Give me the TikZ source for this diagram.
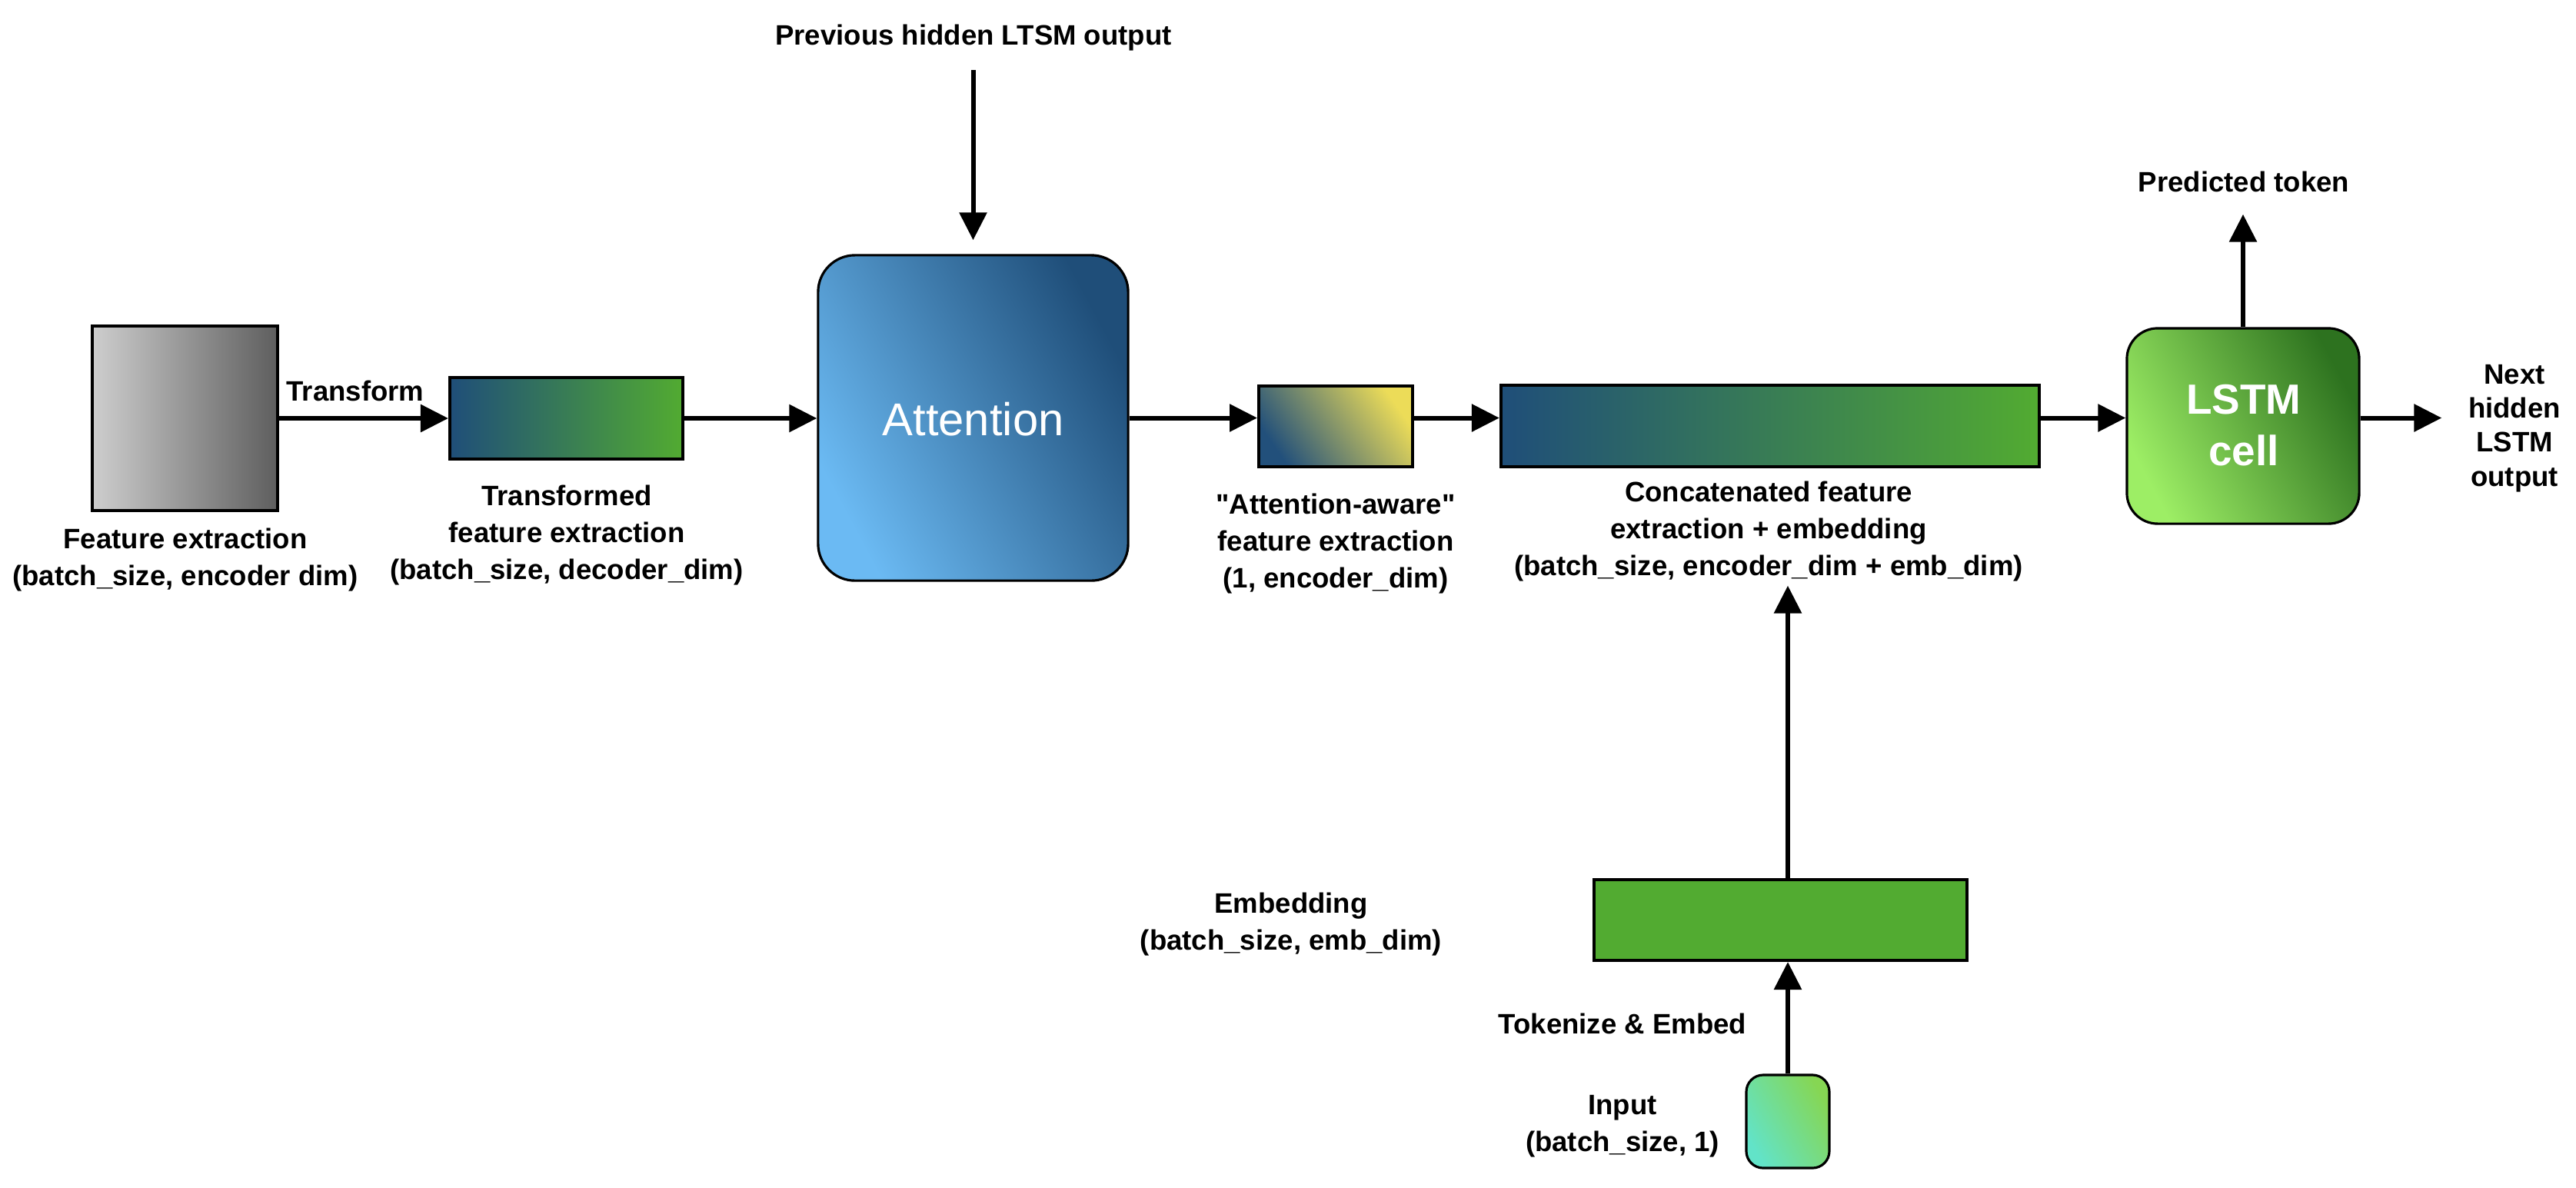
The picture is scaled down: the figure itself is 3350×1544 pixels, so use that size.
\documentclass[tikz,border=0pt]{standalone}
\usepackage{fontspec}
\setmainfont{Liberation Sans}
\usetikzlibrary{arrows.meta}
\definecolor{dblue}{HTML}{1F4E79}
\definecolor{lblue}{HTML}{6BBAF3}
\definecolor{mgreen}{HTML}{52AB31}
\definecolor{lgray}{HTML}{CECECE}
\definecolor{dgray}{HTML}{5E5E5E}
\definecolor{aablue}{HTML}{22507B}
\definecolor{aayel}{HTML}{ECDC58}
\definecolor{lgreen}{HTML}{9DEE65}
\definecolor{dgreen}{HTML}{2D721F}
\definecolor{inteal}{HTML}{62E3C8}
\definecolor{ingreen}{HTML}{86D653}
\newcommand\straightq{\XeTeXglyph\XeTeXcharglyph"22\relax}
\begin{document}
\begin{tikzpicture}[x=0.01cm,y=-0.01cm,
  lbl/.style={font=\bfseries\fontsize{10.4}{13.6}\selectfont, align=center, inner sep=0pt},
  box/.style={draw=black, line width=1.1pt, inner sep=0pt},
  rbox/.style={draw=black, line width=0.9pt, inner sep=0pt},
  arr/.style={line width=1.7pt, -{Triangle[length=0.36cm,width=0.35cm]}},
  wtxt/.style={text=white, align=center}]

\useasboundingbox (0,0) rectangle (3350,1544);

% boxes
\node[box, minimum width=2.41cm, minimum height=2.40cm, left color=lgray, right color=dgray] (feat) at (240.5,544) {};
\node[box, minimum width=3.03cm, minimum height=1.06cm, left color=dblue, right color=mgreen] (trans) at (736.5,544) {};
\node[rbox, rounded corners=0.48cm, minimum width=4.03cm, minimum height=4.23cm,
      top color=dblue, bottom color=lblue, shading angle=-62] (attn) at (1265.5,543.5) {};
\node[wtxt, font=\fontsize{17}{20}\selectfont] (attntxt) at (1265.5,545) {Attention};
\node[box, minimum width=2.00cm, minimum height=1.05cm,
      top color=aayel, bottom color=aablue, shading angle=-55] (aa) at (1737,554.5) {};
\node[box, minimum width=7.00cm, minimum height=1.06cm, left color=dblue, right color=mgreen] (concat) at (2302,554) {};
\node[rbox, rounded corners=0.4cm, minimum width=3.02cm, minimum height=2.54cm,
      top color=dgreen, bottom color=lgreen, shading angle=-62] (lstm) at (2917,554) {};
\node[wtxt, font=\bfseries\fontsize{15.6}{19}\selectfont] (lstmtxt) at (2918,553) {LSTM\\cell};
\node[box, minimum width=4.85cm, minimum height=1.05cm, fill=mgreen] (emb) at (2315.5,1196.5) {};
\node[rbox, rounded corners=0.22cm, minimum width=1.08cm, minimum height=1.21cm,
      top color=ingreen, bottom color=inteal, shading angle=-60] (inp) at (2325,1458.5) {};

% labels
\node[lbl] (prev) at (1266,49.5) {Previous hidden LTSM output};
\node[lbl] (featlbl) at (241,728) {Feature extraction\\(batch\_size, encoder dim)};
\node[lbl] (translbl) at (737,696) {Transformed\\feature extraction\\(batch\_size, decoder\_dim)};
\node[lbl] (transform) at (462,508) {Transform};
\node[lbl] (aalbl) at (1737,707) {\straightq Attention-aware\straightq\\feature extraction\\(1, encoder\_dim)};
\node[lbl] (clbl) at (2300,691) {Concatenated feature\\extraction + embedding\\(batch\_size, encoder\_dim + emb\_dim)};
\node[lbl] (pred) at (2918,236.5) {Predicted token};
\node[lbl, font=\bfseries\fontsize{10.4}{12.6}\selectfont] (next) at (3270,557) {Next\\hidden\\LSTM\\output};
\node[lbl] (emblbl) at (1679,1202) {Embedding\\(batch\_size, emb\_dim)};
\node[lbl] (tok) at (2110,1331) {Tokenize \& Embed};
\node[lbl] (inplbl) at (2110,1465) {Input\\(batch\_size, 1)};

% connectors
\draw[arr] (feat.east) -- (trans.west);
\draw[arr] (trans.east) -- (attn.west |- trans.east);
\draw[arr] (attn.east) -- (aa.west |- attn.east);
\draw[arr] (aa.east |- attn.east) -- (concat.west |- attn.east);
\draw[arr] (concat.east |- attn.east) -- (lstm.west |- attn.east);
\draw[arr, shorten >=0.34cm] (lstm.east |- attn.east) -- (next.west |- attn.east);
\draw[arr, shorten >=0.28cm] (lstm.north) -- (pred.south -| lstm.north);
\draw[arr, shorten <=0.24cm, shorten >=0.18cm] (prev.south -| attn.north) -- (attn.north);
\draw[arr] (inp.north) -- (emb.south -| inp.north);
\draw[arr, shorten >=0.05cm] (emb.north -| inp.north) -- (clbl.south -| inp.north);
\end{tikzpicture}
\end{document}
